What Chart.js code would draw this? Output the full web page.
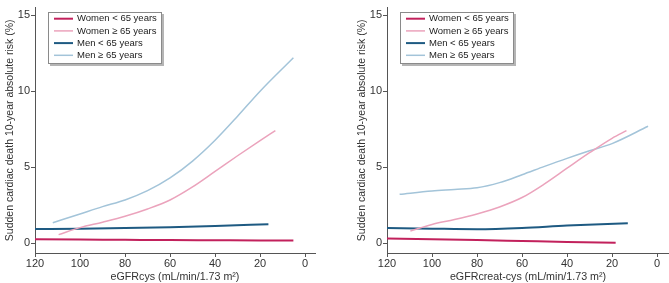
<!DOCTYPE html>
<html>
<head>
<meta charset="utf-8">
<script src="https://cdn.jsdelivr.net/npm/chart.js@4"></script>
<style>
    html, body { margin: 0; padding: 0; background: #fff; }
    #wrap { position: relative; width: 669px; height: 283px; }
    .panel { position: absolute; top: 0; height: 283px; }
</style>
</head>
<body>
<div id="wrap">
    <div class="panel" style="left:0;width:334px"><canvas id="chart"></canvas></div>
    <div class="panel" style="left:334px;width:335px"><canvas id="chart2"></canvas></div>
</div>
<script>
const seriesNames = ['Women < 65 years', 'Women \u2265 65 years', 'Men < 65 years', 'Men \u2265 65 years'];
const seriesColors = ['#c2215c', '#eba3bc', '#1e5a82', '#a3c4d9'];
const seriesWidths = [2, 1.5, 2, 1.5];
const yTicks = [0, 5, 10, 15];
const xTicks = [120, 100, 80, 60, 40, 20, 0];

// eGFRcys panel
const cysWomenYoungX = [120, 100, 80, 60, 40, 20, 5.2];
const cysWomenYoungY = [0.26, 0.24, 0.22, 0.2, 0.19, 0.18, 0.17];
const cysWomenOldX = [109.5, 100, 90, 80, 70, 60, 50, 40, 30, 20, 13.2];
const cysWomenOldY = [0.56, 1.02, 1.38, 1.77, 2.25, 2.84, 3.7, 4.72, 5.75, 6.75, 7.41];
const cysMenYoungX = [120, 100, 80, 60, 40, 16.3];
const cysMenYoungY = [0.93, 0.95, 0.99, 1.05, 1.13, 1.25];
const cysMenOldX = [112.1, 100, 90, 80, 70, 60, 50, 40, 30, 20, 5.2];
const cysMenOldY = [1.34, 1.92, 2.4, 2.84, 3.45, 4.29, 5.4, 6.77, 8.35, 10.0, 12.2];

// eGFRcreat-cys panel
const crcWomenYoungX = [120, 100, 80, 60, 40, 18.4];
const crcWomenYoungY = [0.3, 0.25, 0.2, 0.14, 0.08, 0.02];
const crcWomenOldX = [109.6, 100, 90, 80, 70, 60, 50, 40, 30, 20, 13.6];
const crcWomenOldY = [0.8, 1.23, 1.55, 1.92, 2.38, 3.0, 3.9, 4.93, 5.95, 6.9, 7.4];
const crcMenYoungX = [120, 100, 80, 60, 40, 13];
const crcMenYoungY = [0.99, 0.95, 0.92, 1.0, 1.16, 1.31];
const crcMenOldX = [114.4, 100, 90, 80, 70, 60, 50, 40, 30, 20, 4];
const crcMenOldY = [3.21, 3.43, 3.53, 3.64, 3.98, 4.5, 5.05, 5.58, 6.08, 6.55, 7.69];

Chart.defaults.font.family = "'Liberation Sans', Arial, sans-serif";
Chart.defaults.color = '#333333';

function pts(xs, ys) {
    return xs.map((x, i) => ({ x: x, y: ys[i] }));
}

const boxLegend = {
    id: 'boxLegend',
    afterDraw(chart) {
        const ctx = chart.ctx;
        const left = chart.chartArea.left + 13;
        const top = 12;
        const w = 114, h = 52;
        ctx.save();
        ctx.fillStyle = '#b5b5b5';
        ctx.fillRect(left + 2, top + 2, w, h);
        ctx.fillStyle = '#ffffff';
        ctx.fillRect(left, top, w, h);
        ctx.strokeStyle = '#8a8a8a';
        ctx.lineWidth = 1;
        ctx.strokeRect(left + 0.5, top + 0.5, w - 1, h - 1);
        ctx.font = "9.5px 'Liberation Sans', Arial, sans-serif";
        ctx.textBaseline = 'middle';
        chart.data.datasets.forEach((ds, i) => {
            const y = top + 6.7 + i * 12.2;
            ctx.strokeStyle = ds.borderColor;
            ctx.lineWidth = ds.borderWidth;
            ctx.beginPath();
            ctx.moveTo(left + 6, y);
            ctx.lineTo(left + 25, y);
            ctx.stroke();
            ctx.fillStyle = '#222222';
            ctx.fillText(ds.label, left + 29, y);
        });
        ctx.restore();
    }
};

function makeChart(el, data, xTitle, padLeft, padRight, xMin) {
    return new Chart(el, {
        type: 'line',
        data: {
            datasets: data.map((d, i) => ({
                label: seriesNames[i],
                data: pts(d[0], d[1]),
                borderColor: seriesColors[i],
                borderWidth: seriesWidths[i],
                pointRadius: 0,
                tension: 0.4,
                cubicInterpolationMode: 'monotone',
                fill: false
            }))
        },
        options: {
            responsive: true,
            maintainAspectRatio: false,
            animation: false,
            layout: { padding: { left: padLeft, right: padRight, top: 3, bottom: 0 } },
            plugins: { legend: { display: false }, tooltip: { enabled: false } },
            scales: {
                x: {
                    type: 'linear',
                    reverse: true,
                    min: xMin,
                    max: 120,
                    afterFit(scale) { scale.height = 30; },
                    afterBuildTicks(scale) { scale.ticks = xTicks.map(v => ({ value: v })); },
                    grid: { drawOnChartArea: false, drawTicks: true, tickLength: 4, color: '#555555' },
                    border: { display: true, color: '#555555', width: 1 },
                    ticks: { padding: 0, font: { size: 11 }, maxRotation: 0, autoSkip: false },
                    title: { display: true, text: xTitle, font: { size: 10.7 }, padding: { top: 0, bottom: 0 }, color: '#333333' }
                },
                y: {
                    type: 'linear',
                    min: -0.65,
                    max: 15.5,
                    afterFit(scale) { scale.width = 35; },
                    afterBuildTicks(scale) { scale.ticks = yTicks.map(v => ({ value: v })); },
                    grid: { drawOnChartArea: false, drawTicks: true, tickLength: 4, color: '#555555' },
                    border: { display: true, color: '#555555', width: 1 },
                    ticks: { padding: 1, font: { size: 11 } },
                    title: { display: true, text: 'Sudden cardiac death 10-year absolute risk (%)', font: { size: 10.5 }, padding: { top: 4, bottom: 0 }, color: '#333333' }
                }
            }
        },
        plugins: [boxLegend]
    });
}

document.addEventListener('DOMContentLoaded', () => {
    makeChart(document.getElementById('chart'), [
        [cysWomenYoungX, cysWomenYoungY],
        [cysWomenOldX, cysWomenOldY],
        [cysMenYoungX, cysMenYoungY],
        [cysMenOldX, cysMenOldY]
    ], 'eGFRcys (mL/min/1.73 m\u00b2)', 0, 19, -4.4);

    makeChart(document.getElementById('chart2'), [
        [crcWomenYoungX, crcWomenYoungY],
        [crcWomenOldX, crcWomenOldY],
        [crcMenYoungX, crcMenYoungY],
        [crcMenOldX, crcMenOldY]
    ], 'eGFRcreat-cys (mL/min/1.73 m\u00b2)', 18, 0, -5.3);
});
</script>
</body>
</html>
